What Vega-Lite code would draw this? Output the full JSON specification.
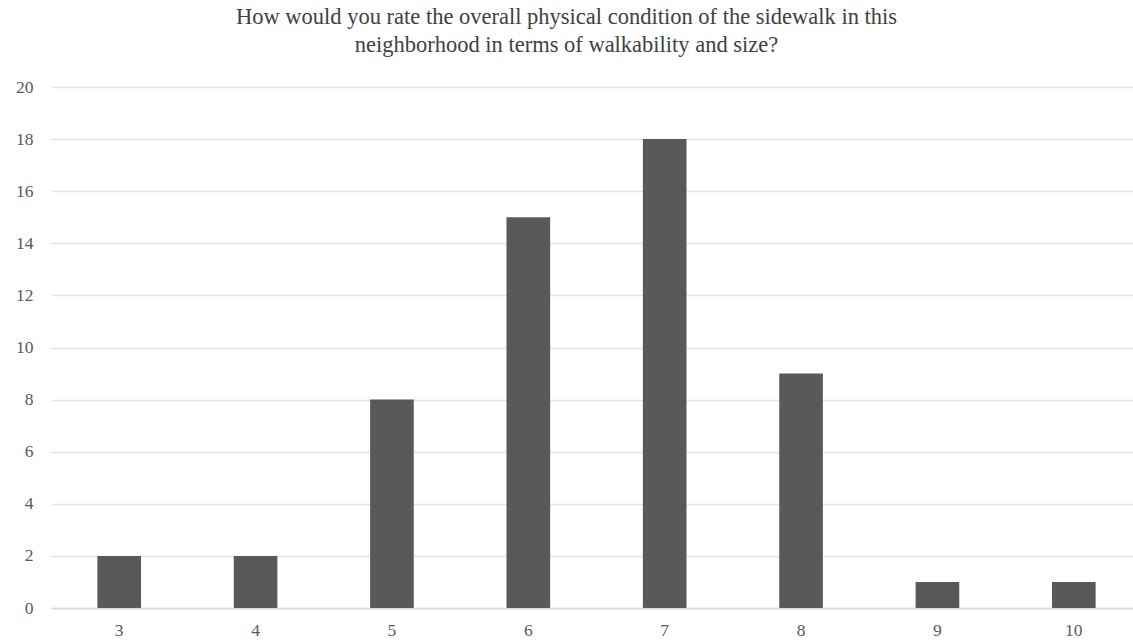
{
  "$schema": "https://vega.github.io/schema/vega-lite/v6.json",
  "width": 1091,
  "height": 521,
  "autosize": {"type": "none"},
  "padding": {"left": 51, "top": 87, "right": 0, "bottom": 32},
  "background": "white",
  "title": {
    "text": ["How would you rate the overall physical condition of the sidewalk in this", "neighborhood in terms of walkability and size?"],
    "font": "Liberation Serif",
    "fontSize": 22.5,
    "fontWeight": "normal",
    "color": "#404040",
    "lineHeight": 28,
    "anchor": "middle",
    "dx": -30,
    "offset": 22
  },
  "data": {
    "values": [
      {"rating": "3", "count": 2},
      {"rating": "4", "count": 2},
      {"rating": "5", "count": 8},
      {"rating": "6", "count": 15},
      {"rating": "7", "count": 18},
      {"rating": "8", "count": 9},
      {"rating": "9", "count": 1},
      {"rating": "10", "count": 1}
    ]
  },
  "mark": {"type": "bar", "color": "#595959"},
  "encoding": {
    "x": {
      "field": "rating",
      "type": "ordinal",
      "sort": null,
      "scale": {"paddingInner": 0.68, "paddingOuter": 0.34},
      "axis": {
        "title": null,
        "labelAngle": 0,
        "labelFont": "Liberation Serif",
        "labelFontSize": 17.5,
        "labelColor": "#595959",
        "labelPadding": 13,
        "ticks": false,
        "domainColor": "#d9d9d9",
        "domainWidth": 1.5
      }
    },
    "y": {
      "field": "count",
      "type": "quantitative",
      "scale": {"domain": [0, 20]},
      "axis": {
        "title": null,
        "values": [0, 2, 4, 6, 8, 10, 12, 14, 16, 18, 20],
        "labelFont": "Liberation Serif",
        "labelFontSize": 17.5,
        "labelColor": "#595959",
        "labelPadding": 18,
        "ticks": false,
        "domain": false,
        "gridColor": "#e3e3e3",
        "gridWidth": 1.5
      }
    }
  },
  "config": {"view": {"stroke": null}}
}
